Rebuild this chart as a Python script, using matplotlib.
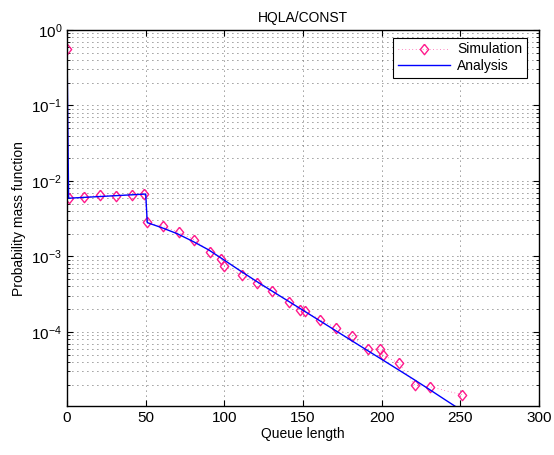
import numpy as np
import matplotlib
matplotlib.use('Agg')
import matplotlib.pyplot as plt

plt.rcParams['font.family'] = ['Liberation Sans', 'DejaVu Sans']
plt.rcParams['mathtext.default'] = 'regular'

# Simulation points (queue length, pmf)
sim_x = [0, 1, 11, 21, 31, 41, 49, 51, 61, 71, 81, 91, 98, 100, 111, 121, 130,
         141, 148, 151, 161, 171, 181, 191, 199, 201, 211, 221, 231, 251]
sim_y = [0.553, 5.9e-3, 6.1e-3, 6.5e-3, 6.4e-3, 6.5e-3, 6.7e-3, 2.82e-3, 2.5e-3,
         2.08e-3, 1.66e-3, 1.16e-3, 9.1e-4, 7.5e-4, 5.7e-4, 4.41e-4, 3.45e-4,
         2.52e-4, 1.97e-4, 1.87e-4, 1.45e-4, 1.13e-4, 8.7e-5, 5.9e-5, 5.9e-5,
         4.9e-5, 3.82e-5, 1.96e-5, 1.86e-5, 1.47e-5]

# Analysis curve
ana_x = [0, 1, 50, 51, 60, 70, 80, 90, 100, 110, 120, 130, 140, 150, 160, 170,
         180, 190, 200, 210, 220, 230, 240, 250]
ana_y = [0.55, 5.9e-3, 6.7e-3, 2.8e-3, 2.41e-3, 2.0e-3, 1.58e-3, 1.22e-3, 8.9e-4,
         6.46e-4, 4.73e-4, 3.5e-4, 2.6e-4, 1.93e-4, 1.43e-4, 1.06e-4, 7.85e-5,
         5.82e-5, 4.32e-5, 3.2e-5, 2.37e-5, 1.74e-5, 1.27e-5, 9.3e-6]

pink = '#ff1a8c'
diamond = [(0, 1), (0.8, 0), (0, -1), (-0.8, 0), (0, 1)]

fig = plt.figure(figsize=(5.54, 4.55), dpi=100)
ax = fig.add_axes([0.121, 0.107, 0.852, 0.827])

ax.plot(sim_x, sim_y, linestyle=(0, (1, 4)), linewidth=0.5, color=pink,
        marker=diamond, markersize=7.5, markerfacecolor='none',
        markeredgecolor=pink, markeredgewidth=1.0, label='Simulation')
ax.plot(ana_x, ana_y, color='#0000ff', linewidth=1.0, label='Analysis')

ax.set_yscale('log')
ax.set_xlim(0, 300)
ax.set_ylim(1.03e-5, 1)
ax.set_xticks([0, 50, 100, 150, 200, 250, 300])
ax.set_yticks([1e-4, 1e-3, 1e-2, 1e-1, 1e0])
ax.set_yticklabels(['$10^{-4}$', '$10^{-3}$', '$10^{-2}$', '$10^{-1}$', '$10^{0}$'])

ax.grid(True, which='major', linestyle=(0, (1, 5)), linewidth=0.6, color='#333333')
ax.grid(True, which='minor', axis='y', linestyle=(0, (1, 5)), linewidth=0.6, color='#333333')

ax.tick_params(which='both', direction='in', top=True, right=True, labelsize=11)
ax.tick_params(which='major', length=4)
ax.tick_params(which='minor', length=2)
for s in ax.spines.values():
    s.set_linewidth(1.0)

ax.set_title('HQLA/CONST', fontsize=10)
ax.set_xlabel('Queue length', fontsize=10, labelpad=1)
ax.set_ylabel('Probability mass function', fontsize=10)

leg = ax.legend(loc='upper right', bbox_to_anchor=(0.975, 0.98), fontsize=10,
                numpoints=1, fancybox=False, framealpha=1, edgecolor='black',
                borderaxespad=0.0, handlelength=3.8, borderpad=0.35,
                labelspacing=0.2, handletextpad=0.5)
leg.get_frame().set_linewidth(0.8)

fig.savefig('out.png', dpi=100)
